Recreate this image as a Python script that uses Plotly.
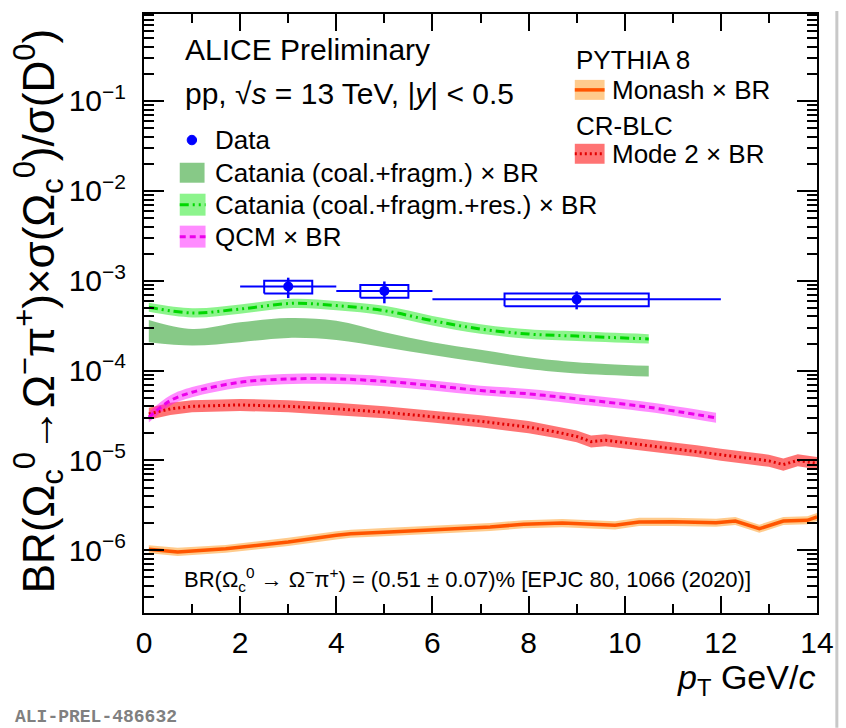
import plotly.graph_objects as go

# ---------------- data ----------------
# ALICE measurement: BR x sigma(Omega_c0)/sigma(D0), pp 13 TeV
data_pt = [3.0, 5.0, 9.0]
data_pt_halfbin = [1.0, 1.0, 3.0]
data_val = [8.6e-4, 7.7e-4, 6.2e-4]
data_stat = [2.2e-4, 2.1e-4, 1.4e-4]
data_syst = [1.4e-4, 1.25e-4, 1.0e-4]

# Catania (coal.+fragm.) x BR
cat_pt = [0.1, 1.0, 2.0, 3.0, 4.0, 5.0, 6.0, 7.0, 8.0, 9.0, 10.5]
cat_hi = [3.66e-4, 2.90e-4, 3.44e-4, 3.85e-4, 3.59e-4, 2.67e-4, 2.07e-4, 1.70e-4, 1.41e-4, 1.24e-4, 1.13e-4]
cat_lo = [2.07e-4, 1.90e-4, 2.07e-4, 2.31e-4, 2.19e-4, 1.82e-4, 1.49e-4, 1.24e-4, 1.04e-4, 9.3e-5, 8.6e-5]

# Catania (coal.+fragm.+res.) x BR
catres_pt = [0.1, 1.0, 2.0, 3.1, 4.0, 5.0, 6.0, 7.0, 8.0, 9.0, 10.5]
catres_mid = [5.06e-4, 4.38e-4, 4.84e-4, 5.60e-4, 5.28e-4, 4.64e-4, 3.59e-4, 2.90e-4, 2.55e-4, 2.42e-4, 2.25e-4]
catres_hi = [5.7e-4, 4.95e-4, 5.45e-4, 6.3e-4, 5.95e-4, 5.25e-4, 4.05e-4, 3.28e-4, 2.88e-4, 2.73e-4, 2.54e-4]
catres_lo = [4.5e-4, 3.9e-4, 4.3e-4, 4.96e-4, 4.68e-4, 4.1e-4, 3.18e-4, 2.57e-4, 2.26e-4, 2.14e-4, 2.0e-4]

# QCM x BR
qcm_pt = [0.1, 0.55, 1.0, 2.0, 3.1, 4.0, 5.0, 6.0, 7.0, 8.0, 9.0, 10.5, 11.9]
qcm_mid = [3.03e-5, 4.64e-5, 5.74e-5, 7.42e-5, 8.08e-5, 8.08e-5, 7.6e-5, 6.81e-5, 6.0e-5, 5.51e-5, 4.84e-5, 3.91e-5, 2.98e-5]
qcm_hi = [3.45e-5, 5.3e-5, 6.55e-5, 8.45e-5, 9.2e-5, 9.2e-5, 8.65e-5, 7.75e-5, 6.8e-5, 6.25e-5, 5.5e-5, 4.45e-5, 3.4e-5]
qcm_lo = [2.65e-5, 4.1e-5, 5.05e-5, 6.5e-5, 7.1e-5, 7.1e-5, 6.7e-5, 6.0e-5, 5.3e-5, 4.85e-5, 4.25e-5, 3.45e-5, 2.62e-5]

# PYTHIA 8 CR-BLC Mode 2 x BR
blc_pt = [0.1, 0.55, 1.0, 2.0, 3.0, 4.0, 5.0, 6.0, 7.0, 8.0, 8.6, 9.0, 9.3, 9.6, 10.0,
          10.5, 11.0, 11.5, 12.0, 12.5, 13.0, 13.3, 13.6, 14.0]
blc_mid = [3.3e-5, 3.75e-5, 4.0e-5, 4.15e-5, 4.0e-5, 3.75e-5, 3.44e-5, 3.08e-5, 2.73e-5, 2.35e-5,
           2.06e-5, 1.85e-5, 1.62e-5, 1.68e-5, 1.58e-5, 1.47e-5, 1.37e-5, 1.27e-5, 1.16e-5, 1.07e-5,
           9.9e-6, 9.0e-6, 1.0e-5, 9.3e-6]
blc_hi = [3.85e-5, 4.38e-5, 4.67e-5, 4.84e-5, 4.67e-5, 4.38e-5, 4.01e-5, 3.59e-5, 3.19e-5, 2.74e-5,
          2.40e-5, 2.16e-5, 1.89e-5, 1.96e-5, 1.84e-5, 1.72e-5, 1.60e-5, 1.48e-5, 1.35e-5, 1.25e-5,
          1.16e-5, 1.05e-5, 1.17e-5, 1.09e-5]
blc_lo = [2.83e-5, 3.21e-5, 3.43e-5, 3.56e-5, 3.43e-5, 3.21e-5, 2.95e-5, 2.64e-5, 2.34e-5, 2.01e-5,
          1.77e-5, 1.59e-5, 1.39e-5, 1.44e-5, 1.35e-5, 1.26e-5, 1.17e-5, 1.09e-5, 9.9e-6, 9.2e-6,
          8.5e-6, 7.7e-6, 8.6e-6, 8.0e-6]

# PYTHIA 8 Monash x BR
mon_pt = [0.1, 0.7, 1.7, 3.0, 4.0, 4.3, 5.1, 6.2, 7.2, 7.9, 8.7, 9.8, 10.3, 11.0, 11.9, 12.3,
          12.8, 13.3, 13.8, 14.0]
mon_mid = [1.03e-6, 0.96e-6, 1.04e-6, 1.24e-6, 1.47e-6, 1.53e-6, 1.60e-6, 1.71e-6, 1.82e-6, 1.95e-6,
           2.01e-6, 1.90e-6, 2.07e-6, 2.08e-6, 2.03e-6, 2.12e-6, 1.74e-6, 2.12e-6, 2.16e-6, 2.35e-6]
mon_hi = [1.14e-6, 1.07e-6, 1.15e-6, 1.38e-6, 1.63e-6, 1.70e-6, 1.78e-6, 1.90e-6, 2.02e-6, 2.16e-6,
          2.23e-6, 2.11e-6, 2.30e-6, 2.31e-6, 2.25e-6, 2.35e-6, 1.93e-6, 2.35e-6, 2.40e-6, 2.61e-6]
mon_lo = [9.3e-7, 8.65e-7, 9.4e-7, 1.12e-6, 1.32e-6, 1.38e-6, 1.44e-6, 1.54e-6, 1.64e-6, 1.76e-6,
          1.81e-6, 1.71e-6, 1.86e-6, 1.87e-6, 1.83e-6, 1.91e-6, 1.57e-6, 1.91e-6, 1.95e-6, 2.12e-6]

y_decades = [-6, -5, -4, -3, -2, -1]

# ---------------- styling ----------------
FONT = "Liberation Sans"
W_PX, H_PX = 846, 728
L, R, T, B = 144, 822, 13, 613

C_CAT = "rgba(0,140,0,0.47)"
C_CATRES = "rgba(0,230,0,0.45)"
C_CATRES_LINE = "rgb(0,215,0)"
C_QCM = "rgba(255,0,255,0.45)"
C_QCM_LINE = "rgb(235,0,235)"
C_BLC = "rgba(255,0,0,0.55)"
C_BLC_LINE = "rgb(225,0,0)"
C_MON = "rgba(255,140,0,0.45)"
C_MON_LINE = "rgb(255,85,0)"
DASHDOTDOT = "9px,4px,2px,4px,2px,4px"


def fx(p):
    return (p - L) / (R - L)


def fy(p):
    return (B - p) / (B - T)


def band(x, lo, hi, color, shape):
    return [
        go.Scatter(x=x, y=lo, mode="lines", line=dict(width=0, shape=shape),
                   hoverinfo="skip"),
        go.Scatter(x=x, y=hi, mode="lines", line=dict(width=0, shape=shape),
                   fill="tonexty", fillcolor=color, hoverinfo="skip"),
    ]


fig = go.Figure()
for tr in (band(blc_pt, blc_lo, blc_hi, C_BLC, "linear")
           + band(qcm_pt, qcm_lo, qcm_hi, C_QCM, "spline")
           + band(cat_pt, cat_lo, cat_hi, C_CAT, "spline")
           + band(catres_pt, catres_lo, catres_hi, C_CATRES, "spline")
           + band(mon_pt, mon_lo, mon_hi, C_MON, "linear")):
    fig.add_trace(tr)

fig.add_trace(go.Scatter(x=blc_pt, y=blc_mid, mode="lines",
                         line=dict(color=C_BLC_LINE, width=3, dash="2px,3px")))
fig.add_trace(go.Scatter(x=qcm_pt, y=qcm_mid, mode="lines",
                         line=dict(color=C_QCM_LINE, width=3, dash="6px,4px", shape="spline")))
fig.add_trace(go.Scatter(x=catres_pt, y=catres_mid, mode="lines",
                         line=dict(color=C_CATRES_LINE, width=3, dash=DASHDOTDOT, shape="spline")))
fig.add_trace(go.Scatter(x=mon_pt, y=mon_mid, mode="lines",
                         line=dict(color=C_MON_LINE, width=3.5)))

# systematic boxes: half the bin half-width wide
bx, by = [], []
for x, h, v, s in zip(data_pt, data_pt_halfbin, data_val, data_syst):
    w = 0.5 * h
    bx += [x - w, x + w, x + w, x - w, x - w, None]
    by += [v - s, v - s, v + s, v + s, v - s, None]
fig.add_trace(go.Scatter(x=bx, y=by, mode="lines", line=dict(color="blue", width=2)))

fig.add_trace(go.Scatter(
    x=data_pt, y=data_val, mode="markers",
    marker=dict(color="blue", size=10),
    error_y=dict(type="data", array=data_stat, color="blue", thickness=2.5, width=0),
    error_x=dict(type="data", array=data_pt_halfbin, color="blue", thickness=2, width=0),
))

axis_common = dict(
    showline=True, linewidth=2, linecolor="black", mirror="allticks",
    ticks="inside", tickwidth=2, tickcolor="black", showgrid=False, zeroline=False,
    tickfont=dict(family=FONT, size=30, color="black"),
)

fig.update_xaxes(
    range=[0, 14], tickmode="linear", tick0=0, dtick=2, ticklen=17,
    minor=dict(ticks="inside", dtick=1, ticklen=9, tickwidth=2, tickcolor="black", showgrid=False),
    ticklabelstandoff=2,
    **axis_common,
)
fig.update_yaxes(
    type="log", range=[-6.697, -0.033],
    tickmode="array",
    tickvals=[10.0 ** e for e in y_decades],
    ticktext=["10<sup>\u2212%d</sup>" % (-e) for e in y_decades],
    ticklen=20,
    minor=dict(ticks="inside", tickmode="array",
               tickvals=[k * 10.0 ** e for e in range(-7, 0) for k in range(2, 10)],
               ticklen=10, tickwidth=2, tickcolor="black", showgrid=False),
    ticklabelstandoff=10,
    **axis_common,
)

annotations = []
shapes = []


def text(xp, yp, s, size, anchor="left", **kw):
    annotations.append(dict(
        x=fx(xp), y=fy(yp), xref="paper", yref="paper", text=s, showarrow=False,
        xanchor=anchor, yanchor="middle",
        font=dict(family=kw.pop("family", FONT), size=size, color=kw.pop("color", "black")),
        **kw))


def rect(x0, y0, x1, y1, color):
    shapes.append(dict(type="rect", xref="paper", yref="paper",
                       x0=fx(x0), x1=fx(x1), y0=fy(y0), y1=fy(y1),
                       fillcolor=color, line=dict(width=0)))


def hline(x0, x1, y, color, width, dash="solid"):
    shapes.append(dict(type="line", xref="paper", yref="paper",
                       x0=fx(x0), x1=fx(x1), y0=fy(y), y1=fy(y),
                       line=dict(color=color, width=width, dash=dash)))


# header
text(183, 49, "ALICE Preliminary", 30)
text(183, 93, "pp, \u221a<i>s</i> = 13 TeV, |<i>y</i>| < 0.5", 30)

# left legend block
shapes.append(dict(type="circle", xref="paper", yref="paper",
                   x0=fx(187.5), x1=fx(197), y0=fy(134.5), y1=fy(144),
                   fillcolor="blue", line=dict(color="blue", width=1)))
text(214, 139, "Data", 26)
rect(180, 162, 205, 182, C_CAT)
text(214, 172, "Catania (coal.+fragm.) \u00d7 BR", 26)
rect(180, 193, 206, 215, C_CATRES)
hline(180, 206, 204, C_CATRES_LINE, 3, DASHDOTDOT)
text(214, 204, "Catania (coal.+fragm.+res.) \u00d7 BR", 26)
rect(180, 225, 206, 247, C_QCM)
hline(180, 206, 236, C_QCM_LINE, 3, "6px,4px")
text(214, 236, "QCM \u00d7 BR", 26)

# right legend block
text(577, 59, "PYTHIA 8", 26)
rect(578, 79, 608, 99, C_MON)
hline(578, 608, 89, C_MON_LINE, 3.5)
text(613, 89, "Monash \u00d7 BR", 26)
text(577, 125, "CR-BLC", 26)
rect(578, 143, 608, 163, C_BLC)
hline(578, 608, 153, C_BLC_LINE, 3, "2px,3px")
text(613, 153, "Mode 2 \u00d7 BR", 26)

# branching-ratio note
text(182, 579,
     "BR(\u03a9<sub>c</sub><sup>0</sup> \u2192 \u03a9<sup>\u2212</sup>\u03c0<sup>+</sup>) = "
     "(0.51 \u00b1 0.07)% [EPJC 80, 1066 (2020)]", 22)

# axis titles
text(38, 311,
     "BR(\u03a9<sub>c</sub><sup>0</sup>\u2192\u03a9<sup>\u2212</sup>\u03c0<sup>+</sup>)\u00d7"
     "\u03c3(\u03a9<sub>c</sub><sup>0</sup>)/\u03c3(D<sup>0</sup>)", 44, anchor="center",
     textangle=-90)
text(822, 680, "<i>p</i><sub>T</sub> GeV/<i>c</i>", 34, anchor="right")

# figure label
text(12, 717, "<b>ALI-PREL-486632</b>", 18, family="Liberation Mono", color="rgb(128,128,128)")

# page edge line
shapes.append(dict(type="line", xref="paper", yref="paper",
                   x0=fx(842), x1=fx(842), y0=fy(10), y1=fy(728),
                   line=dict(color="rgb(200,200,200)", width=3)))

fig.update_layout(
    width=W_PX, height=H_PX,
    margin=dict(l=L, r=W_PX - R, t=T, b=H_PX - B),
    paper_bgcolor="white", plot_bgcolor="white",
    showlegend=False,
    annotations=annotations, shapes=shapes,
)

fig.write_html("out.html")
